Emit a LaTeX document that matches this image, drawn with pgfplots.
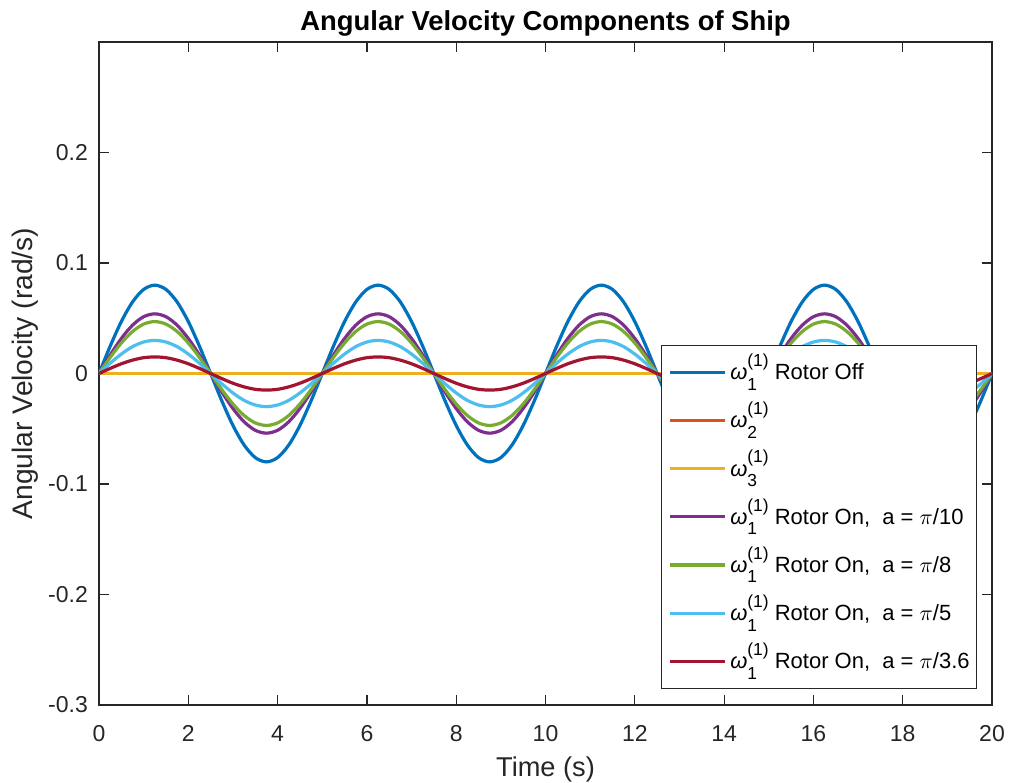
\documentclass[border=0pt]{standalone}
\usepackage{fontspec}
\setmainfont{Liberation Sans}
\usepackage{pgfplots}
\usepackage{pgfplotstable}
\pgfplotsset{compat=1.18}
\definecolor{axc}{RGB}{38,38,38}
\definecolor{c1}{RGB}{0,114,189}
\definecolor{c2}{RGB}{217,83,25}
\definecolor{c3}{RGB}{237,177,32}
\definecolor{c4}{RGB}{126,47,142}
\definecolor{c5}{RGB}{119,172,48}
\definecolor{c6}{RGB}{77,190,238}
\definecolor{c7}{RGB}{162,20,47}
\pgfplotstableread{
t b p g c r
0 0 0 0 0 0
0.25 0.0247 0.0167 0.0145 0.0093 0.0046
0.5 0.0470 0.0317 0.0276 0.0176 0.0088
0.75 0.0647 0.0437 0.0380 0.0243 0.0121
1 0.0761 0.0514 0.0447 0.0285 0.0143
1.25 0.0800 0.0540 0.0470 0.0300 0.0150
1.5 0.0761 0.0514 0.0447 0.0285 0.0143
1.75 0.0647 0.0437 0.0380 0.0243 0.0121
2 0.0470 0.0317 0.0276 0.0176 0.0088
2.25 0.0247 0.0167 0.0145 0.0093 0.0046
2.5 0 0 0 0 0
2.75 -0.0247 -0.0167 -0.0145 -0.0093 -0.0046
3 -0.0470 -0.0317 -0.0276 -0.0176 -0.0088
3.25 -0.0647 -0.0437 -0.0380 -0.0243 -0.0121
3.5 -0.0761 -0.0514 -0.0447 -0.0285 -0.0143
3.75 -0.0800 -0.0540 -0.0470 -0.0300 -0.0150
4 -0.0761 -0.0514 -0.0447 -0.0285 -0.0143
4.25 -0.0647 -0.0437 -0.0380 -0.0243 -0.0121
4.5 -0.0470 -0.0317 -0.0276 -0.0176 -0.0088
4.75 -0.0247 -0.0167 -0.0145 -0.0093 -0.0046
5 0 0 0 0 0
5.25 0.0247 0.0167 0.0145 0.0093 0.0046
5.5 0.0470 0.0317 0.0276 0.0176 0.0088
5.75 0.0647 0.0437 0.0380 0.0243 0.0121
6 0.0761 0.0514 0.0447 0.0285 0.0143
6.25 0.0800 0.0540 0.0470 0.0300 0.0150
6.5 0.0761 0.0514 0.0447 0.0285 0.0143
6.75 0.0647 0.0437 0.0380 0.0243 0.0121
7 0.0470 0.0317 0.0276 0.0176 0.0088
7.25 0.0247 0.0167 0.0145 0.0093 0.0046
7.5 0 0 0 0 0
7.75 -0.0247 -0.0167 -0.0145 -0.0093 -0.0046
8 -0.0470 -0.0317 -0.0276 -0.0176 -0.0088
8.25 -0.0647 -0.0437 -0.0380 -0.0243 -0.0121
8.5 -0.0761 -0.0514 -0.0447 -0.0285 -0.0143
8.75 -0.0800 -0.0540 -0.0470 -0.0300 -0.0150
9 -0.0761 -0.0514 -0.0447 -0.0285 -0.0143
9.25 -0.0647 -0.0437 -0.0380 -0.0243 -0.0121
9.5 -0.0470 -0.0317 -0.0276 -0.0176 -0.0088
9.75 -0.0247 -0.0167 -0.0145 -0.0093 -0.0046
10 0 0 0 0 0
10.25 0.0247 0.0167 0.0145 0.0093 0.0046
10.5 0.0470 0.0317 0.0276 0.0176 0.0088
10.75 0.0647 0.0437 0.0380 0.0243 0.0121
11 0.0761 0.0514 0.0447 0.0285 0.0143
11.25 0.0800 0.0540 0.0470 0.0300 0.0150
11.5 0.0761 0.0514 0.0447 0.0285 0.0143
11.75 0.0647 0.0437 0.0380 0.0243 0.0121
12 0.0470 0.0317 0.0276 0.0176 0.0088
12.25 0.0247 0.0167 0.0145 0.0093 0.0046
12.5 0 0 0 0 0
12.75 -0.0247 -0.0167 -0.0145 -0.0093 -0.0046
13 -0.0470 -0.0317 -0.0276 -0.0176 -0.0088
13.25 -0.0647 -0.0437 -0.0380 -0.0243 -0.0121
13.5 -0.0761 -0.0514 -0.0447 -0.0285 -0.0143
13.75 -0.0800 -0.0540 -0.0470 -0.0300 -0.0150
14 -0.0761 -0.0514 -0.0447 -0.0285 -0.0143
14.25 -0.0647 -0.0437 -0.0380 -0.0243 -0.0121
14.5 -0.0470 -0.0317 -0.0276 -0.0176 -0.0088
14.75 -0.0247 -0.0167 -0.0145 -0.0093 -0.0046
15 0 0 0 0 0
15.25 0.0247 0.0167 0.0145 0.0093 0.0046
15.5 0.0470 0.0317 0.0276 0.0176 0.0088
15.75 0.0647 0.0437 0.0380 0.0243 0.0121
16 0.0761 0.0514 0.0447 0.0285 0.0143
16.25 0.0800 0.0540 0.0470 0.0300 0.0150
16.5 0.0761 0.0514 0.0447 0.0285 0.0143
16.75 0.0647 0.0437 0.0380 0.0243 0.0121
17 0.0470 0.0317 0.0276 0.0176 0.0088
17.25 0.0247 0.0167 0.0145 0.0093 0.0046
17.5 0 0 0 0 0
17.75 -0.0247 -0.0167 -0.0145 -0.0093 -0.0046
18 -0.0470 -0.0317 -0.0276 -0.0176 -0.0088
18.25 -0.0647 -0.0437 -0.0380 -0.0243 -0.0121
18.5 -0.0761 -0.0514 -0.0447 -0.0285 -0.0143
18.75 -0.0800 -0.0540 -0.0470 -0.0300 -0.0150
19 -0.0761 -0.0514 -0.0447 -0.0285 -0.0143
19.25 -0.0647 -0.0437 -0.0380 -0.0243 -0.0121
19.5 -0.0470 -0.0317 -0.0276 -0.0176 -0.0088
19.75 -0.0247 -0.0167 -0.0145 -0.0093 -0.0046
20 0 0 0 0 0
}\wtab
\newcommand{\sfs}{\fontsize{8.7}{8.7}\selectfont}
\newcommand{\om}[1]{{\itshape ω}\rlap{\raisebox{-5.2pt}{\sfs #1}}\raisebox{6.6pt}{\sfs (1)}}
\newcommand{\st}{\rule[-8.35pt]{0pt}{24.1pt}}
\newcommand{\ent}[1]{\st\makebox[119.5pt][l]{#1}}
\begin{document}
\begin{tikzpicture}
\useasboundingbox (-49.5pt,-38.5pt) rectangle (455.5pt,352.5pt);
\begin{axis}[
  at={(0pt,0pt)}, anchor=south west,
  scale only axis, width=446.5pt, height=331.5pt,
  xmin=0, xmax=20, ymin=-0.3, ymax=0.3,
  xtick={0,2,4,6,8,10,12,14,16,18,20},
  ytick={-0.3,-0.2,-0.1,0,0.1,0.2},
  axis line style={draw=axc, line width=0.6pt},
  major tick style={draw=axc, line width=0.6pt},
  major tick length=5pt,
  tick align=inside,
  /pgf/number format/assume math mode=true,
  ticklabel style={font=\fontsize{11.5}{13}\selectfont, text=axc},
  xticklabel style={inner sep=0pt, anchor=base, yshift=-18pt},
  yticklabel style={inner sep=0pt, xshift=-5.4pt},
  label style={text=axc},
  xlabel={Time (s)},
  ylabel={Angular Velocity (rad/s)},
  xlabel style={font=\fontsize{13.6}{16}\selectfont, at={(axis description cs:0.5,-0.1071)}, anchor=base},
  ylabel style={font=\fontsize{14.1}{16}\selectfont, at={(axis description cs:-0.0750,0.5)}, anchor=base},
  title={Angular Velocity Components of Ship},
  title style={font=\bfseries\fontsize{13.7}{16}\selectfont, at={(axis description cs:0.5,1.0)}, anchor=base, text=black},
  legend style={at={(axis description cs:0.62934,0.54299)}, anchor=north west,
    draw=axc, line width=0.5pt, fill=white,
    inner xsep=3.5pt, inner ysep=1.3pt,
    nodes={inner sep=0pt, text depth=},
    column sep=1.8pt, row sep=0pt,
    font=\fontsize{11}{13}\selectfont},
  legend cell align=left,
  legend image code/.code={\draw[#1, line width=1.6pt] (0pt,0pt) -- (27.5pt,0pt);},
  every axis plot/.append style={line width=1.6pt},
]
\addplot[c1, smooth] table[x=t, y=b] {\wtab};
\addlegendentry{\ent{\om{1} Rotor Off}}
\addplot[c2] coordinates {(0,0) (20,0)};
\addlegendentry{\ent{\om{2}}}
\addplot[c3] coordinates {(0,0) (20,0)};
\addlegendentry{\ent{\om{3}}}
\addplot[c4, smooth] table[x=t, y=p] {\wtab};
\addlegendentry{\ent{\om{1} Rotor On,\ \ a = $\pi$/10}}
\addplot[c5, smooth] table[x=t, y=g] {\wtab};
\addlegendentry{\ent{\om{1} Rotor On,\ \ a = $\pi$/8}}
\addplot[c6, smooth] table[x=t, y=c] {\wtab};
\addlegendentry{\ent{\om{1} Rotor On,\ \ a = $\pi$/5}}
\addplot[c7, smooth] table[x=t, y=r] {\wtab};
\addlegendentry{\ent{\om{1} Rotor On,\ \ a = $\pi$/3.6}}
\end{axis}
\end{tikzpicture}
\end{document}
